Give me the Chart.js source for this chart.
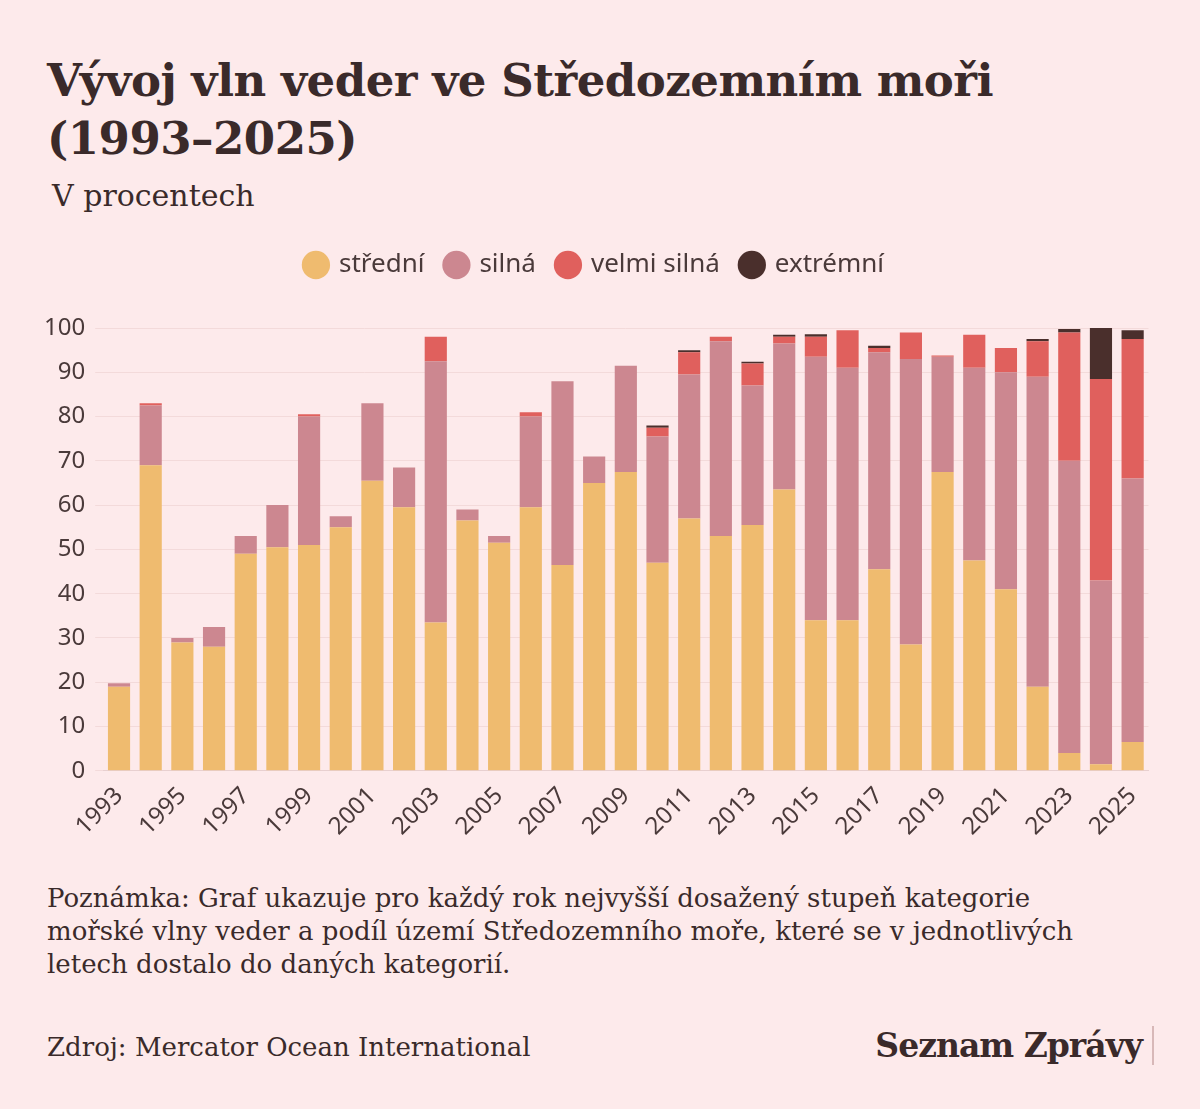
<!DOCTYPE html>
<html>
<head>
<meta charset="utf-8">
<script src="https://cdn.jsdelivr.net/npm/chart.js@4"></script>
<style>
  body { margin: 0; background: #fdeaeb; width: 1200px; height: 1109px; position: relative; overflow: hidden; font-family: "DejaVu Serif", serif; color: #3a2a2a; }
  h1 { position: absolute; left: 47px; top: 52px; margin: 0; font-size: 45px; line-height: 58px; font-weight: bold; width: 1100px; letter-spacing: -0.5px; }
  .sub { position: absolute; left: 52px; top: 178px; font-size: 30px; }
  .chart { position: absolute; left: 34px; top: 230px; width: 1122px; height: 614px; }
  .note { position: absolute; left: 47px; top: 882px; font-size: 26px; line-height: 33px; width: 1140px; letter-spacing: 0px; white-space: nowrap; }
  .src { position: absolute; left: 47px; top: 1032px; font-size: 26px; letter-spacing: 0px; }
  .logo { position: absolute; right: 46px; top: 1026px; font-size: 33px; font-weight: bold; letter-spacing: -1px; border-right: 2px solid #d8b8b8; padding-right: 10px; }
</style>
</head>
<body>
<h1>Vývoj vln veder ve Středozemním moři (1993–2025)</h1>
<div class="sub">V procentech</div>
<div class="chart"><canvas id="c"></canvas></div>
<div class="note">Poznámka: Graf ukazuje pro každý rok nejvyšší dosažený stupeň kategorie<br>mořské vlny veder a podíl území Středozemního moře, které se v jednotlivých<br>letech dostalo do daných kategorií.</div>
<div class="src">Zdroj: Mercator Ocean International</div>
<div class="logo">Seznam Zprávy</div>
<script>
var years = [];
for (var y = 1993; y <= 2025; y++) years.push(String(y));

var stredni = [19, 69, 29, 28, 49, 50.5, 51, 55, 65.5, 59.5, 33.5, 56.5, 51.5, 59.5, 46.5, 65, 67.5, 47, 57, 53, 55.5, 63.5, 34, 34, 45.5, 28.5, 67.5, 47.5, 41, 19, 4, 1.5, 6.5];
var silna = [0.8, 13.5, 1, 4.5, 4, 9.5, 29, 2.5, 17.5, 9, 59, 2.5, 1.5, 20.5, 41.5, 6, 24, 28.5, 32.5, 44, 31.5, 33, 59.5, 57, 49, 64.5, 26, 43.5, 49, 70, 66, 41.5, 59.5];
var velmiSilna = [0, 0.5, 0, 0, 0, 0, 0.5, 0, 0, 0, 5.5, 0, 0, 1, 0, 0, 0, 2, 5, 1, 5, 1.5, 4.5, 8.5, 1, 6, 0.3, 7.5, 5.5, 8, 29, 45.5, 31.5];
var extremni = [0, 0, 0, 0, 0, 0, 0, 0, 0, 0, 0, 0, 0, 0, 0, 0, 0, 0.5, 0.5, 0, 0.4, 0.5, 0.6, 0, 0.5, 0, 0, 0, 0, 0.5, 0.8, 11.5, 2];
var yTicks = [0, 10, 20, 30, 40, 50, 60, 70, 80, 90, 100];

var sans = "'Noto Sans', sans-serif";

// extra space below the legend
var legendGap = {
    id: "legendGap",
    beforeInit: function (chart) {
        var fit = chart.legend.fit;
        chart.legend.fit = function () {
            fit.bind(chart.legend)();
            this.height += 40;
        };
    }
};

new Chart(document.getElementById("c"), {
    type: "bar",
    data: {
        labels: years,
        datasets: [
            { label: "střední", data: stredni, backgroundColor: "#efbb6f" },
            { label: "silná", data: silna, backgroundColor: "#cc8790" },
            { label: "velmi silná", data: velmiSilna, backgroundColor: "#e0605d" },
            { label: "extrémní", data: extremni, backgroundColor: "#4a2f2c" }
        ]
    },
    plugins: [legendGap],
    options: {
        responsive: true,
        maintainAspectRatio: false,
        animation: false,
        datasets: { bar: { categoryPercentage: 1, barPercentage: 0.7 } },
        plugins: {
            tooltip: { enabled: false },
            legend: {
                labels: {
                    usePointStyle: true, pointStyle: "circle", boxWidth: 20, boxHeight: 20, padding: 22,
                    font: { family: sans, size: 26 }, color: "#4a3a3a"
                }
            }
        },
        scales: {
            x: {
                stacked: true,
                grid: { display: false },
                border: { color: "#e8d0d0" },
                ticks: {
                    autoSkip: false, maxRotation: 45, minRotation: 45,
                    font: { family: sans, size: 24 }, color: "#4a3a3a",
                    callback: function (v, i) { return i % 2 === 0 ? years[i] : ""; }
                }
            },
            y: {
                stacked: true, min: 0, max: 100,
                afterBuildTicks: function (s) { s.ticks = yTicks.map(function (v) { return { value: v }; }); },
                grid: { color: "#f3dada" },
                border: { display: false },
                ticks: { font: { family: sans, size: 24 }, color: "#4a3a3a", padding: 10 }
            }
        }
    }
});
</script>
</body>
</html>
